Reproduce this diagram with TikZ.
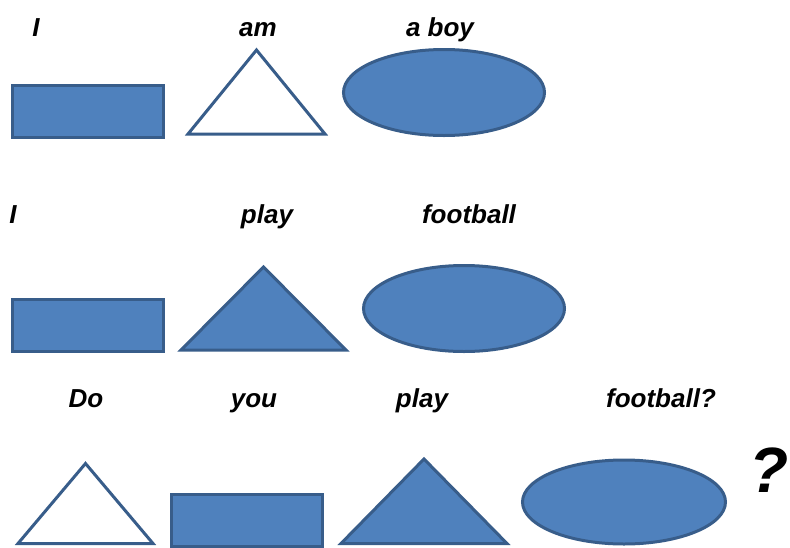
\documentclass[tikz,border=0pt]{standalone}
\usepackage{fontspec}
\setmainfont{Liberation Sans}
\usepackage{tikz}
\usetikzlibrary{shapes.geometric}
\definecolor{shapeblue}{HTML}{4F81BD}
\definecolor{edgeblue}{HTML}{385D8A}
\tikzstyle{word} = [font=\fontsize{26}{30}\selectfont\bfseries\itshape, anchor=base, inner sep=0pt]
\tikzstyle{box} = [rectangle, minimum width=151pt, minimum height=52pt, inner sep=0pt, draw=edgeblue, fill=shapeblue, line width=3pt]
\tikzstyle{oval} = [ellipse, minimum width=201pt, minimum height=86pt, inner sep=0pt, draw=edgeblue, fill=shapeblue, line width=3pt]
\tikzstyle{opentri} = [isosceles triangle, isosceles triangle stretches, shape border rotate=90, anchor=south, inner sep=0pt, draw=edgeblue, fill=white, line width=3pt]
\tikzstyle{filledtri} = [opentri, fill=shapeblue]

\begin{document}
\begin{tikzpicture}[x=1pt, y=-1pt]
\useasboundingbox (0,0) rectangle (790,547);
% I am a boy
\node (w11) [word] at (36,36) {I};
\node (w12) [word] at (258,36) {am};
\node (w13) [word] at (440,36) {a boy};
\node (box1) [box] at (88,111.5) {};
\node (tri1) [opentri, minimum width=137pt, minimum height=84pt] at (256.5,135.5) {};
\node (oval1) [oval] at (444,92.5) {};
% I play football
\node (w21) [word] at (13,223) {I};
\node (w22) [word] at (267,223) {play};
\node (w23) [word] at (469,223) {football};
\node (box2) [box] at (88,325) {};
\node (tri2) [filledtri, minimum width=165pt, minimum height=83pt] at (263.5,351.5) {};
\node (oval2) [oval] at (464,308.5) {};
% Do you play football?
\node (w31) [word] at (86,407) {Do};
\node (w32) [word] at (254,407) {you};
\node (w33) [word] at (422,407) {play};
\node (w34) [word] at (661,407) {football?};
\node (tri3) [opentri, minimum width=135pt, minimum height=80pt] at (85.5,545) {};
\node (box3) [box] at (247,520) {};
\node (tri4) [filledtri, minimum width=166pt, minimum height=84.5pt] at (424,545) {};
\node (oval3) [oval, minimum width=203pt, minimum height=84pt] at (624,502) {};
\node (ask) [word, font=\fontsize{64}{72}\selectfont\bfseries\itshape] at (769,492) {?};
\end{tikzpicture}
\end{document}
